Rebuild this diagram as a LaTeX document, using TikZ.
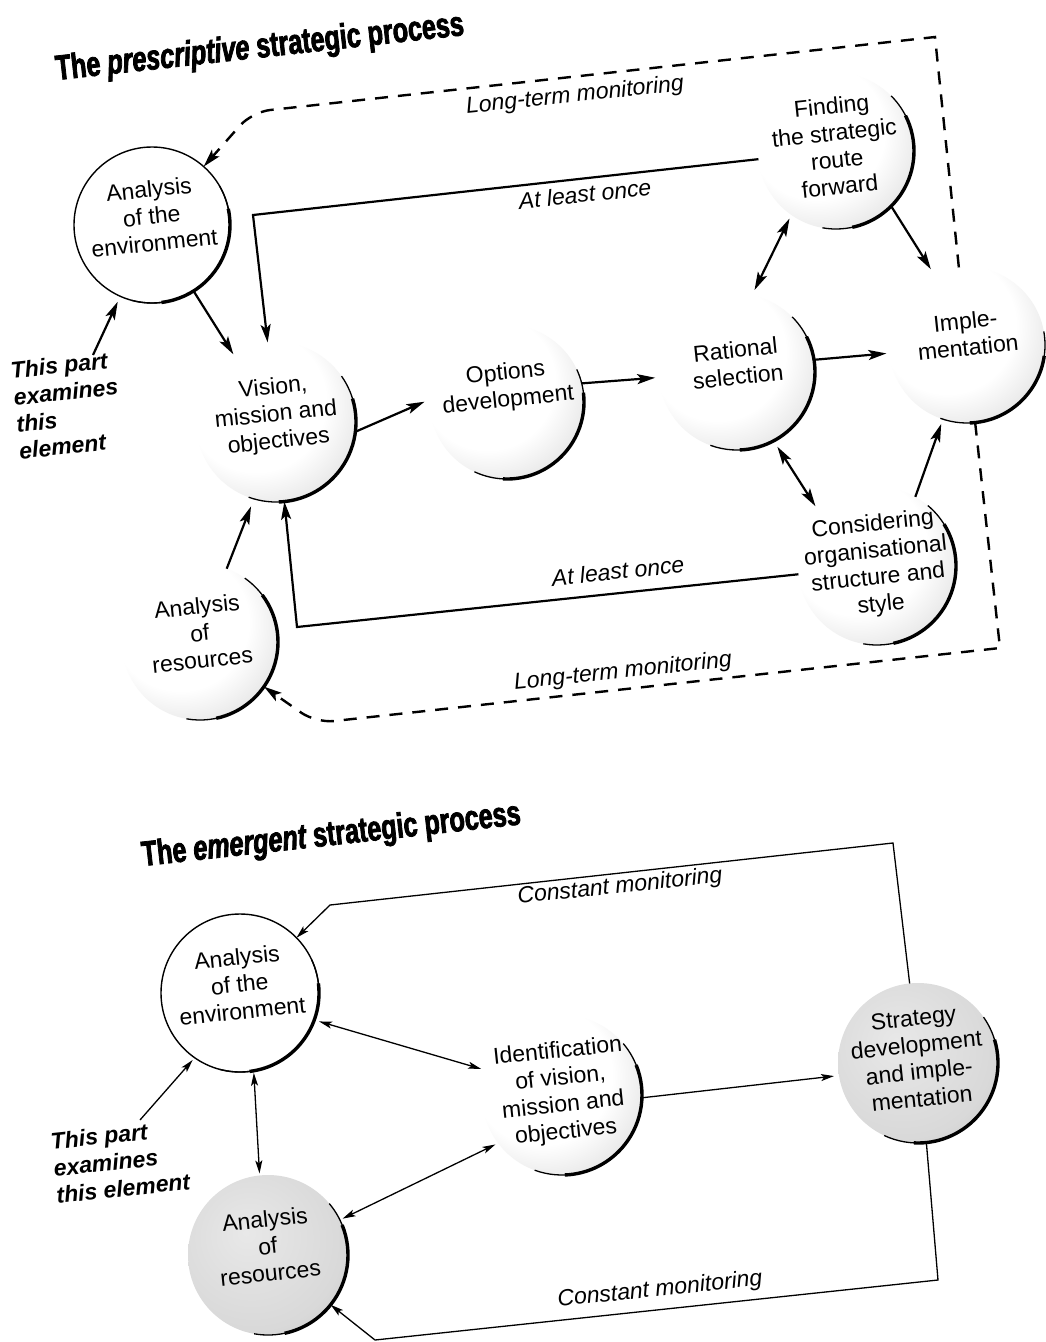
\documentclass[tikz,border=0pt]{standalone}
\usepackage{fontspec}
\setmainfont{Liberation Sans}
\newfontfamily\headfont[FakeStretch=0.72,FakeBold=2.2]{Liberation Sans}
\usetikzlibrary{arrows.meta,calc}

% soft stippled sphere: light centre, grey towards the lower right
\pgfdeclareradialshading{stipple}{\pgfpoint{-9bp}{9bp}}{%
  color(0bp)=(white); color(22bp)=(white); color(36bp)=(black!12);
  color(48bp)=(black!27); color(58bp)=(black!40); color(75bp)=(black!40)}
\pgfdeclareradialshading{heavystipple}{\pgfpoint{-7bp}{7bp}}{%
  color(0bp)=(black!9); color(28bp)=(black!15); color(44bp)=(black!25);
  color(56bp)=(black!37); color(75bp)=(black!37)}

\tikzset{
  bigtip/.tip={Stealth[length=18pt,width=10pt,inset=4pt]},
  smalltip/.tip={Stealth[length=13pt,width=7pt,inset=3pt]},
}

% text of a bubble, tilted with the page; it takes no room, so the
% bubble keeps its own size
\newcommand\ctext[2][0]{\smash{\makebox[0pt]{\raisebox{#1pt}{%
  \rotatebox[origin=c]{6}{\begin{tabular}{@{}c@{}}#2\end{tabular}}}}}}
% dark shadow rim on the lower right of a bubble: node, from, to, radius
\newcommand\rim[4]{%
  \draw[line width=1.3pt] (#1.center) ++(#2:#4) arc[start angle=#2, end angle=#3, radius=#4];
  \draw[line width=3.4pt] (#1.center) ++({#2-18}:#4) arc[start angle={#2-18}, end angle={#3+22}, radius=#4];}

\begin{document}
\begin{tikzpicture}[x=1pt,y=1pt,
  every node/.style={inner sep=0pt, outer sep=0pt},
  bubble/.style={circle, minimum size=#1, font=\fontsize{23}{27}\selectfont},
  plainball/.style={bubble=#1, fill=white, draw=black, line width=1.4pt},
  softball/.style={bubble=#1, shading=stipple},
  darkball/.style={bubble=#1, shading=heavystipple},
  caption/.style={font=\fontsize{23}{27}\selectfont\itshape, rotate=6},
  note/.style={font=\fontsize{23}{27}\selectfont\bfseries\itshape, rotate=6, align=left},
  heading/.style={font=\fontsize{35}{40}\headfont\bfseries, rotate=6.3, anchor=base west},
  link/.style={line width=2.2pt, -{bigtip}},
  twoway/.style={line width=2.2pt, {bigtip}-{bigtip}},
  loopline/.style={line width=2.4pt, dash pattern=on 13pt off 10pt, -{bigtip}},
  thinlink/.style={line width=1.3pt, -{smalltip}},
  thintwoway/.style={line width=1.3pt, {smalltip}-{smalltip}},
]
\useasboundingbox (0,0) rectangle (1045,-1342);
\fill[white] (0,0) rectangle (1045,-1342);

%% ---------------- prescriptive process ----------------
\node[heading] (title1) at (57,-80) {The {\itshape prescriptive} strategic process};

\node[plainball=156pt] (env) at (152,-225) {\ctext{Analysis\\of the\\environment}};
\node[softball=160pt] (vis) at (276,-422) {\ctext{Vision,\\mission and\\objectives}};
\node[softball=154pt] (opt) at (507,-402) {\ctext[8]{Options\\development}};
\node[softball=156pt] (rat) at (737,-372) {\ctext{Rational\\selection}};
\node[softball=156pt] (imp) at (967,-345) {\ctext[2]{Imple-\\mentation}};
\node[softball=156pt] (fin) at (836,-151) {\ctext[-4]{Finding\\the strategic\\route\\forward}};
\node[softball=158pt] (con) at (877,-566) {\ctext[-6]{Considering\\organisational\\structure and\\style}};
\node[softball=156pt] (res) at (200,-642) {\ctext{Analysis\\of\\resources}};

\rim{env}{30}{-105}{78}
\rim{vis}{35}{-110}{80}
\rim{opt}{25}{-115}{77}
\rim{rat}{45}{-110}{78}
\rim{imp}{10}{-110}{78}
\rim{fin}{45}{-100}{78}
\rim{con}{50}{-100}{79}
\rim{res}{55}{-100}{78}

\node[note, anchor=north west] (note1) at (10,-362) {This part\\examines\\this\\element};
\coordinate (note1tail) at (93,-355);

\node[caption] (lt1) at (575,-96) {Long-term monitoring};
\node[caption] (lt2) at (623,-672) {Long-term monitoring};
\node[caption] (alo1) at (585,-194) {At least once};
\node[caption] (alo2) at (618,-571) {At least once};

% long-term monitoring loops
\draw[loopline] (imp.96) -- (935,-37) [rounded corners=18pt] -- (252,-112) -- (env);
\draw[loopline] (imp.-84) -- (1000,-648) [rounded corners=18pt] -- (316,-723) -- (res);
% at-least-once loops
\draw[link] (fin.186) -- (253,-215) -- (vis.96);
\draw[link] (con.186) -- (297,-627) -- (vis.-84);
% main flow
\draw[link] (env) -- (vis);
\draw[link, shorten >=6pt] (vis.-7) -- (opt.178);
\draw[link, shorten >=4pt] (opt.14) -- (rat.184);
\draw[link, shorten >=3pt] (rat.9) -- (imp.186);
\draw[twoway, shorten <=4pt, shorten >=6pt] (fin.235) -- (rat.79);
\draw[link, shorten >=6pt] (fin.-45) -- (imp.115);
\draw[twoway, shorten <=7pt, shorten >=7pt] (rat.-62) -- (con.137);
\draw[link, shorten >=5pt] (con.61) -- (imp.-108);
\draw[link, shorten >=8pt] (res.70) -- (vis.-106);
\draw[link, shorten >=6pt] (note1tail) -- (env.-114);

%% ---------------- emergent process ----------------
\node[heading] (title2) at (143,-866) {The {\itshape emergent} strategic process};

\node[plainball=158pt] (envB) at (240,-993) {\ctext{Analysis\\of the\\environment}};
\node[darkball=160pt] (resB) at (268,-1255) {\ctext{Analysis\\of\\resources}};
\node[softball=160pt] (idB) at (562,-1095) {\ctext[-4]{Identification\\of vision,\\mission and\\objectives}};
\node[darkball=160pt] (strB) at (918,-1063) {\ctext[-4]{Strategy\\development\\and imple-\\mentation}};

\rim{envB}{25}{-105}{79}
\rim{resB}{40}{-100}{80}
\rim{idB}{40}{-110}{80}
\rim{strB}{35}{-115}{80}

\node[note, anchor=north west] (note2) at (50,-1133) {This part\\examines\\this element};
\coordinate (note2tail) at (140,-1120);

\node[caption] (cm1) at (620,-887) {Constant monitoring};
\node[caption] (cm2) at (660,-1290) {Constant monitoring};

\draw[thinlink] (strB.96) -- (893,-843) -- (330,-905) -- (envB);
\draw[thinlink] (strB.-84) -- (938,-1280) -- (375,-1340) -- (resB);
\draw[thintwoway, shorten <=5pt, shorten >=5pt] (envB.-20) -- (idB.162);
\draw[thintwoway, shorten <=2pt, shorten >=2pt] (envB.-80) -- (resB.96);
\draw[thintwoway, shorten <=3pt, shorten >=3pt] (resB.26) -- (idB.217);
\draw[thinlink, shorten >=5pt] (idB.-2) -- (strB.189);
\draw[thinlink, shorten >=3pt] (note2tail) -- (envB.-125);
\end{tikzpicture}
\end{document}
